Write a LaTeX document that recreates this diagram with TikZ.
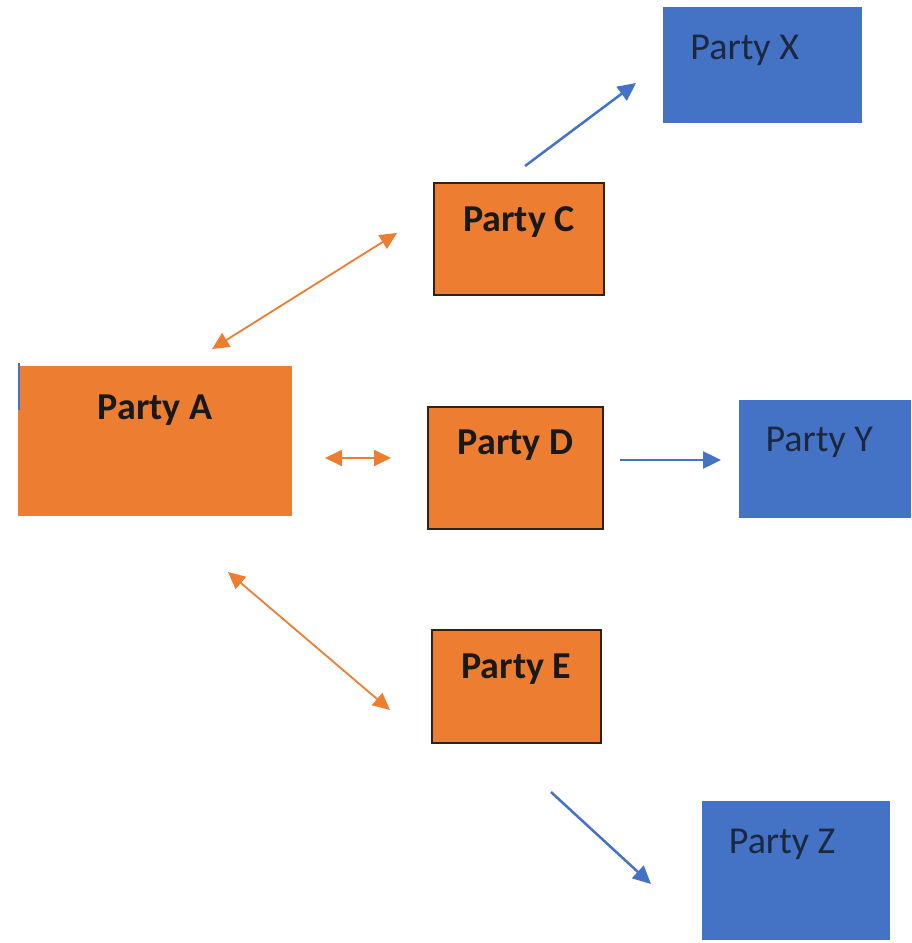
\documentclass[tikz,border=0pt]{standalone}
\usepackage{fontspec}
\setmainfont{Carlito}
\usetikzlibrary{arrows.meta}
\definecolor{orng}{HTML}{ED7D31}
\definecolor{blu}{HTML}{4472C4}
\definecolor{navy}{HTML}{1B2840}
\definecolor{brd}{HTML}{2E2118}
\tikzset{
  obox/.style={rectangle, fill=orng, draw=brd, line width=2pt, anchor=north west, inner sep=0pt},
  abox/.style={rectangle, fill=orng, anchor=north west, inner sep=0pt},
  bbox/.style={rectangle, fill=blu, anchor=north west, inner sep=0pt},
  olbl/.style={font=\fontsize{38}{42}\selectfont\bfseries, text=black!90, anchor=center},
  blbl/.style={font=\fontsize{38}{42}\selectfont, text=navy, anchor=center},
  oarr/.style={draw=orng, line width=1.8pt, {Triangle[length=17pt,width=16pt]}-{Triangle[length=17pt,width=16pt]}},
  barr/.style={draw=blu, line width=2.5pt, -{Triangle[length=18pt,width=17pt]}}
}
\begin{document}
\begin{tikzpicture}[x=1pt,y=-1pt]
\useasboundingbox (0,0) rectangle (911,943);
% boxes
\node[abox, minimum width=274pt, minimum height=150pt,
  label={[olbl, yshift=-44pt]north:Party A}] (A) at (18,366) {};
\draw[blu, line width=2pt] (19,363) -- (19,410);
\node[obox, minimum width=170pt, minimum height=112pt,
  label={[olbl, yshift=-40pt]north:Party C}] (C) at (433,182) {};
\node[obox, minimum width=175pt, minimum height=122pt,
  label={[olbl, yshift=-39pt]north:Party D}] (D) at (427,406) {};
\node[obox, minimum width=169pt, minimum height=113pt,
  label={[olbl, yshift=-40pt]north:Party E}] (E) at (431,629) {};
\node[bbox, minimum width=199pt, minimum height=116pt,
  label={[blbl, yshift=-43pt, xshift=-18pt]north:Party X}] (X) at (663,7) {};
\node[bbox, minimum width=172pt, minimum height=118pt,
  label={[blbl, yshift=-42pt, xshift=-6pt]north:Party Y}] (Y) at (739,400) {};
\node[bbox, minimum width=188pt, minimum height=139pt,
  label={[blbl, yshift=-43pt, xshift=-14pt]north:Party Z}] (Z) at (702,801) {};
% connector ends
\coordinate (ac1) at (212,349);
\coordinate (ac2) at (397,233);
\coordinate (ad1) at (325,458);
\coordinate (ad2) at (391,458);
\coordinate (ae1) at (228,572);
\coordinate (ae2) at (390,710);
\coordinate (cx1) at (525,166);
\coordinate (cx2) at (636,83);
\coordinate (dy1) at (620,460);
\coordinate (dy2) at (721,460);
\coordinate (ez1) at (551,792);
\coordinate (ez2) at (651,884);
% connectors
\draw[oarr] (ac1) -- (ac2);
\draw[oarr] (ad1) -- (ad2);
\draw[oarr] (ae1) -- (ae2);
\draw[barr] (cx1) -- (cx2);
\draw[barr] (dy1) -- (dy2);
\draw[barr] (ez1) -- (ez2);
\end{tikzpicture}
\end{document}
